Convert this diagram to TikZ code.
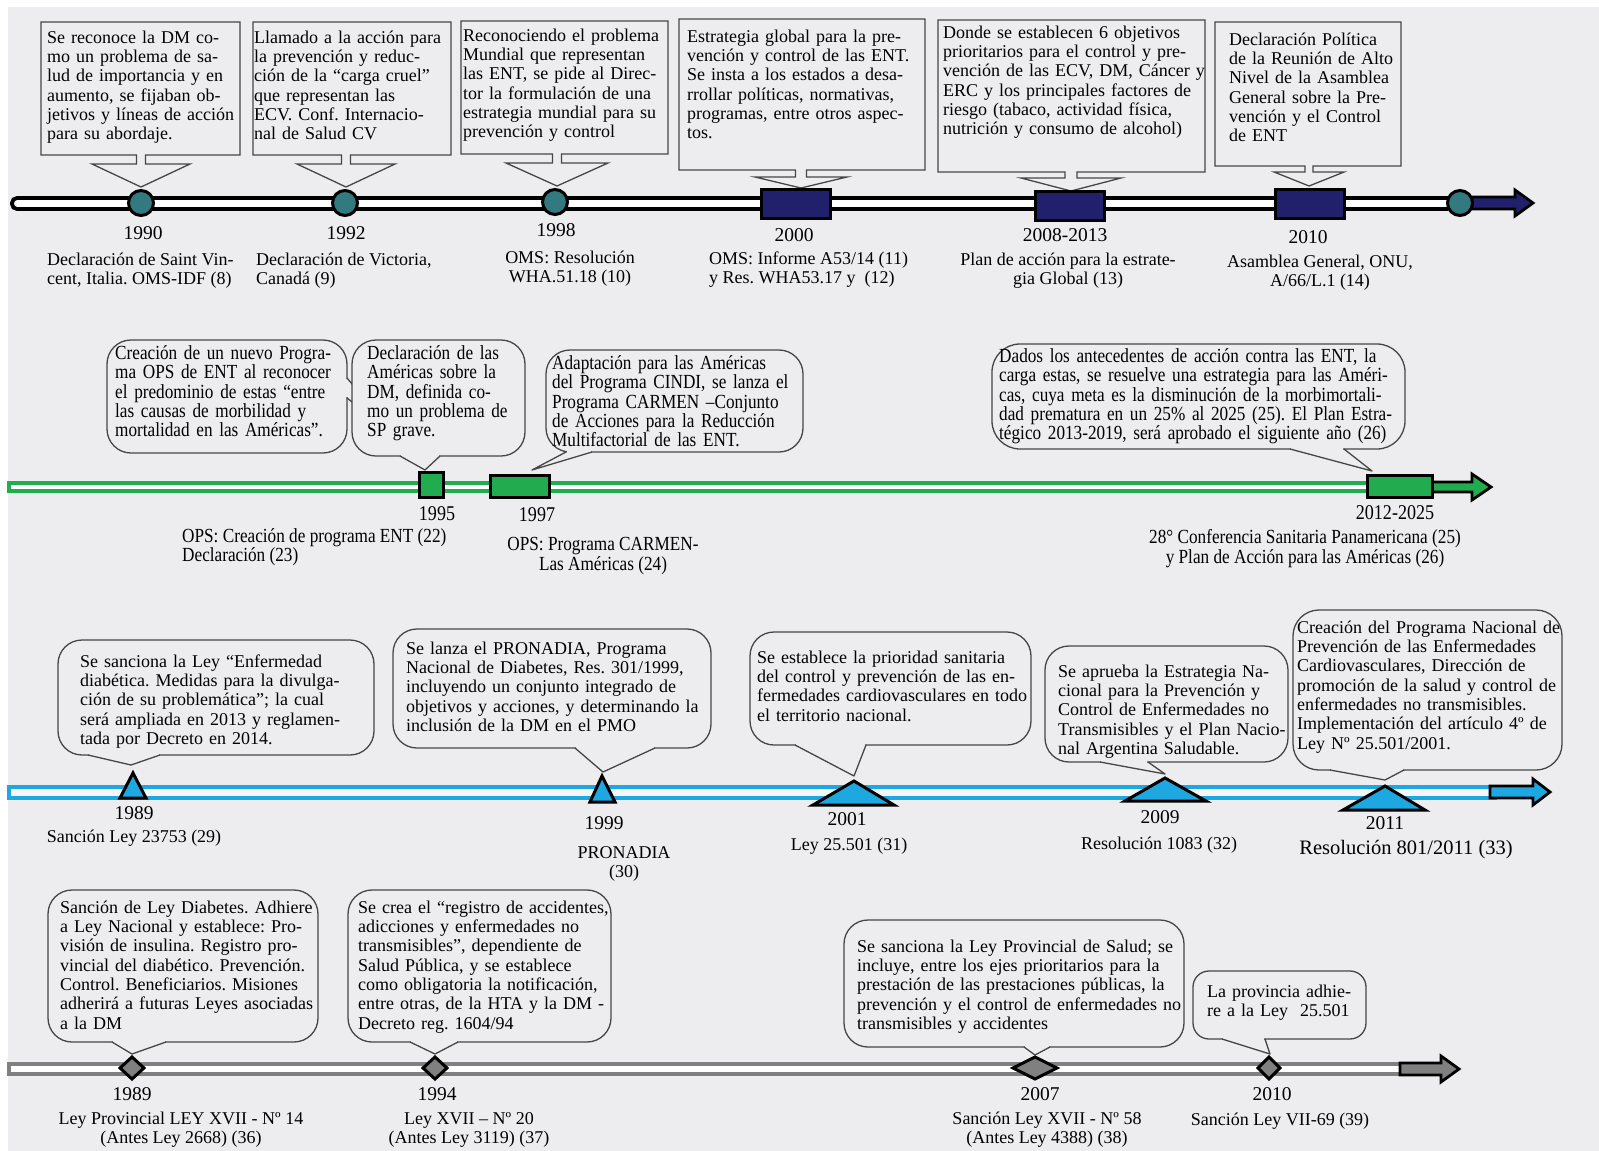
\documentclass[tikz,border=0pt]{standalone}
\usepackage{fontspec}
\setmainfont{Liberation Serif}
\newfontfamily\narrowserif[FakeStretch=0.86]{Liberation Serif}
\setlength{\parindent}{0pt}
\lineskiplimit=-100pt
\frenchspacing

\definecolor{bgc}{RGB}{237,237,239}
\definecolor{tealc}{RGB}{50,122,128}
\definecolor{navyc}{RGB}{32,32,108}
\definecolor{greenc}{RGB}{34,172,80}
\definecolor{bluec}{RGB}{30,168,226}
\definecolor{greyc}{RGB}{128,128,128}
\definecolor{edgec}{RGB}{70,70,70}

% one justified line of a paragraph
\newcommand{\J}[1]{\makebox[\hsize][s]{#1}\par}
% fixed first-line height
\newcommand{\fs}{\rule{0pt}{17pt}}

\tikzset{
  txt/.style={anchor=north west, inner sep=0pt, font=\frenchspacing\fontsize{18}{19.3}\selectfont, align=left},
  ntxt/.style={anchor=north west, inner sep=0pt, font=\frenchspacing\narrowserif\fontsize{20}{19.4}\selectfont, align=left},
  lab/.style={anchor=north, inner sep=0pt, font=\frenchspacing\fontsize{18}{19.3}\selectfont, align=center},
  nlab/.style={anchor=north, inner sep=0pt, font=\frenchspacing\narrowserif\fontsize{20}{20}\selectfont, align=center},
  year/.style={inner sep=0pt, font=\fontsize{19.5}{20}\selectfont},
  nyear/.style={inner sep=0pt, font=\narrowserif\fontsize{21}{21}\selectfont},
  mk/.style={draw=black, line width=3pt, inner sep=0pt},
  tcirc/.style={mk, circle, fill=tealc, minimum size=25pt},
  nbox/.style={mk, rectangle, fill=navyc, minimum width=69pt, minimum height=29pt},
  gbox/.style={mk, rectangle, fill=greenc},
  mkline/.style={draw=black, line width=3pt, line join=miter},
  arrowline/.style={draw=black, line width=2.8pt, line join=miter},
  cbox/.style={draw=edgec, line width=1.3pt, fill=bgc},
  cedge/.style={draw=edgec, line width=1.3pt, line join=round},
}

% box with a short stem and a downward arrow head:
% xL, yT, xR, yB, stem centre, stem half width, stem bottom, head half width, tip y
\newcommand{\dncallout}[9]{%
  \draw[cbox] (#1,#2) -- (#3,#2) -- (#3,#4) -- ({#5+#6},#4) -- ({#5+#6},#7)
    -- ({#5+#8},#7) -- (#5,#9) -- ({#5-#8},#7) -- ({#5-#6},#7) -- ({#5-#6},#4)
    -- (#1,#4) -- cycle;}
% rounded speech bubble with its tail on the bottom edge:
% xL, yT, xR, yB, tail base 1, tail base 2, tip x, tip y, corner radius
\newcommand{\bubble}[9]{%
  \draw[cbox, rounded corners=#9pt] (#1,#2) rectangle (#3,#4);
  \fill[bgc] ({#5+0.8},{#4-1.3}) rectangle ({#6-0.8},{#4+1.3});
  \draw[cedge] (#5,#4) -- (#7,#8) -- (#6,#4);}
% triangle marker: apex x, apex y, base left, base right, base y
\newcommand{\tri}[5]{\draw[mkline, fill=bluec] (#1,#2) -- (#3,#5) -- (#4,#5) -- cycle;}
% diamond marker: centre x, centre y, half width, half height
\newcommand{\dia}[4]{\draw[mkline, fill=greyc] ({#1-#3},#2) -- (#1,{#2-#4}) -- ({#1+#3},#2) -- (#1,{#2+#4}) -- cycle;}

\begin{document}
\begin{tikzpicture}[x=1pt,y=-1pt]
\useasboundingbox (0,0) rectangle (1599,1151);
\fill[white] (0,0) rectangle (1599,1151);
\fill[bgc] (8,7) rectangle (1599,1151);

%% ---------------- Row 1: OMS ----------------
\draw[line width=3.8pt, fill=white, rounded corners=5pt] (12,198) rectangle (1452,209);
\draw[arrowline, fill=navyc] (1450,197) -- (1515,197) -- (1515,190) -- (1533,203)
  -- (1515,216) -- (1515,209) -- (1450,209) -- cycle;

\dncallout{41}{22}{240}{155}{141}{4.5}{164}{49}{187}
\dncallout{253}{22}{451}{155}{346}{4.5}{164}{49}{187}
\dncallout{461}{21}{668}{154}{557}{4.5}{163}{51}{186}
\dncallout{679}{19}{925}{170}{801}{5.5}{177}{46}{188}
\dncallout{938}{20}{1205}{172}{1071}{6}{178}{50}{191}
\dncallout{1215}{22}{1401}{166}{1309}{4}{172}{35}{186}

\node[tcirc] (c1990) at (141,203) {};
\node[tcirc] (c1992) at (345,203) {};
\node[tcirc] (c1998) at (555,202) {};
\node[nbox] (b2000) at (796,204) {};
\node[nbox] (b2008) at (1070,206) {};
\node[nbox] (b2010) at (1310,204) {};
\node[tcirc] (cend) at (1460,203) {};

\node[txt, text width=186pt] (t1990) at (47,26) {\J{\fs Se reconoce la DM co-}\J{mo un problema de sa-}\J{lud de importancia y en}\J{aumento, se fijaban ob-}\J{jetivos y líneas de acción}para su abordaje.};
\node[txt, text width=400pt] (t1992) at (254,26) {\fs Llamado a la acción para\\la prevención y reduc-\\ción de la “carga cruel”\\que representan las\\ECV. Conf. Internacio-\\nal de Salud CV};
\node[txt, text width=400pt] (t1998) at (463,24) {\fs Reconociendo el problema\\Mundial que representan\\las ENT, se pide al Direc-\\tor la formulación de una\\estrategia mundial para su\\prevención y control};
\node[txt, text width=223pt] (t2000) at (687,25) {\J{\fs Estrategia global para la pre-}\J{vención y control de las ENT.}\J{Se insta a los estados a desa-}\J{rrollar políticas, normativas,}\J{programas, entre otros aspec-}tos.};
\node[txt, text width=261pt] (t2008) at (943,21) {\J{\fs Donde se establecen 6 objetivos}\J{prioritarios para el control y pre-}\J{vención de las ECV, DM, Cáncer y}\J{ERC y los principales factores de}\J{riesgo (tabaco, actividad física,}nutrición y consumo de alcohol)};
\node[txt, text width=400pt] (t2010) at (1229,28) {\fs Declaración Política\\de la Reunión de Alto\\Nivel de la Asamblea\\General sobre la Pre-\\vención y el Control\\de ENT};

\node[year] (y1990) at (143,233) {1990};
\node[year] (y1992) at (346,233) {1992};
\node[year] (y1998) at (556,230) {1998};
\node[year] (y2000) at (794,235) {2000};
\node[year] (y2008) at (1065,235) {2008-2013};
\node[year] (y2010) at (1308,237) {2010};

\node[txt] (d1990) at (47,248) {\fs Declaración de Saint Vin-\\cent, Italia. OMS-IDF (8)};
\node[txt] (d1992) at (256,248) {\fs Declaración de Victoria,\\Canadá (9)};
\node[lab] (d1998) at (570,246) {\fs OMS: Resolución\\WHA.51.18 (10)};
\node[txt] (d2000) at (709,247) {\fs OMS: Informe A53/14 (11)\\y Res. WHA53.17 y \ (12)};
\node[lab] (d2008) at (1068,248) {\fs Plan de acción para la estrate-\\gia Global (13)};
\node[lab] (d2010) at (1320,250) {\fs Asamblea General, ONU,\\A/66/L.1 (14)};

%% ---------------- Row 2: OPS ----------------
\draw[draw=greenc, line width=3.5pt, fill=white] (9,483) rectangle (1440,491);
\draw[arrowline, fill=greenc] (1425,482) -- (1472,482) -- (1472,474) -- (1491,487)
  -- (1472,500) -- (1472,492) -- (1425,492) -- cycle;

% bubble whose tail runs behind the next one
\draw[cbox, rounded corners=24pt] (107,340) rectangle (347,453);
\fill[bgc] (346,379) rectangle (348.5,397);
\draw[cedge] (347,378) -- (400,440) -- (347,398);
\bubble{352}{340}{525}{456}{400}{440}{425}{470}{24}
\bubble{546}{350}{803}{452}{566}{592}{532}{470}{24}
\bubble{992}{344}{1405}{449}{1290}{1344}{1372}{471}{28}

\node[gbox, minimum width=24pt, minimum height=25pt] (g1995) at (431,485) {};
\node[gbox, minimum width=59pt, minimum height=22pt] (g1997) at (520,486) {};
\node[gbox, minimum width=65pt, minimum height=22pt] (g2012) at (1400,486) {};

\node[ntxt, text width=400pt] (t1995a) at (115,342) {\fs Creación de un nuevo Progra-\\ma OPS de ENT al reconocer\\el predominio de estas “entre\\las causas de morbilidad y\\mortalidad en las Américas”.};
\node[ntxt, text width=400pt] (t1995b) at (367,342) {\fs Declaración de las\\Américas sobre la\\DM, definida co-\\mo un problema de\\SP grave.};
\node[ntxt, text width=240pt] (t1997) at (552,352) {\J{\fs Adaptación para las Américas}\J{del Programa CINDI, se lanza el}\J{Programa CARMEN –Conjunto}\J{de Acciones para la Reducción}Multifactorial de las ENT.};
\node[ntxt, text width=398pt] (t2012) at (999,345) {\J{\fs Dados los antecedentes de acción contra las ENT, la}\J{carga estas, se resuelve una estrategia para las Améri-}\J{cas, cuya meta es la disminución de la morbimortali-}\J{dad prematura en un 25\% al 2025 (25). El Plan Estra-}tégico 2013-2019, será aprobado el siguiente año (26)};

\node[nyear] (y1995) at (437,514) {1995};
\node[nyear] (y1997) at (537,515) {1997};
\node[nyear] (y2012) at (1395,513) {2012-2025};

\node[ntxt] (d1995) at (182,525) {\fs OPS: Creación de programa ENT (22)\\Declaración (23)};
\node[nlab] (d1997) at (603,533) {\fs OPS: Programa CARMEN-\\Las Américas (24)};
\node[nlab] (d2012) at (1305,526) {\fs 28° Conferencia Sanitaria Panamericana (25)\\y Plan de Acción para las Américas (26)};

%% ---------------- Row 3: Nación ----------------
\draw[draw=bluec, line width=3.5pt, fill=bgc!50!white] (9,787) rectangle (1495,798);
\draw[arrowline, fill=bluec] (1490,786) -- (1533,786) -- (1533,779) -- (1550,792)
  -- (1533,805) -- (1533,798) -- (1490,798) -- cycle;

\bubble{58}{640}{374}{755}{88}{160}{131}{765}{24}
\bubble{393}{629}{711}{748}{575}{655}{603}{772}{24}
\bubble{750}{632}{1031}{745}{795}{866}{854}{776}{24}
\bubble{1045}{646}{1288}{762}{1100}{1148}{1165}{774}{24}
\bubble{1293}{610}{1562}{770}{1330}{1404}{1385}{780}{26}

\tri{133}{773}{120}{146}{798}
\tri{602}{776}{590}{615}{802}
\tri{854}{781}{813}{894}{805}
\tri{1165}{778}{1125}{1206}{801}
\tri{1385}{786}{1343}{1425}{810}

\node[txt, text width=266pt] (t1989n) at (80,650) {\J{\fs Se sanciona la Ley “Enfermedad}\J{diabética. Medidas para la divulga-}\J{ción de su problemática”; la cual}\J{será ampliada en 2013 y reglamen-}tada por Decreto en 2014.};
\node[txt, text width=290pt] (t1999) at (406,637) {\J{\fs Se lanza el PRONADIA, Programa}\J{Nacional de Diabetes, Res. 301/1999,}\J{incluyendo un conjunto integrado de}\J{objetivos y acciones, y determinando la}inclusión de la DM en el PMO};
\node[txt, text width=266pt] (t2001) at (757,646) {\J{\fs Se establece la prioridad sanitaria}\J{del control y prevención de las en-}\J{fermedades cardiovasculares en todo}el territorio nacional.};
\node[txt, text width=400pt] (t2009) at (1058,660) {\fs Se aprueba la Estrategia Na-\\cional para la Prevención y\\Control de Enfermedades no\\Transmisibles y el Plan Nacio-\\nal Argentina Saludable.};
\node[txt, text width=400pt] (t2011) at (1297,616) {\fs Creación del Programa Nacional de\\Prevención de las Enfermedades\\Cardiovasculares, Dirección de\\promoción de la salud y control de\\enfermedades no transmisibles.\\Implementación del artículo 4º de\\Ley Nº 25.501/2001.};

\node[year] (y1989n) at (134,813) {1989};
\node[year] (y1999) at (604,823) {1999};
\node[year] (y2001) at (847,819) {2001};
\node[year] (y2009) at (1160,817) {2009};
\node[year] (y2011) at (1385,823) {2011};

\node[lab] (d1989n) at (134,825) {\fs Sanción Ley 23753 (29)};
\node[lab] (d1999) at (624,841) {\fs PRONADIA\\(30)};
\node[lab] (d2001) at (849,833) {\fs Ley 25.501 (31)};
\node[lab] (d2009) at (1159,832) {\fs Resolución 1083 (32)};
\node[lab, font=\fontsize{20.5}{21}\selectfont] (d2011) at (1406,837) {\fs Resolución 801/2011 (33)};

%% ---------------- Row 4: Provincia ----------------
\draw[draw=greyc, line width=3.5pt, fill=white] (9,1064) rectangle (1405,1074);
\draw[arrowline, fill=greyc] (1400,1063) -- (1441,1063) -- (1441,1056) -- (1459,1069)
  -- (1441,1082) -- (1441,1075) -- (1400,1075) -- cycle;

\bubble{48}{890}{318}{1042}{112}{166}{132}{1054}{24}
\bubble{348}{890}{611}{1042}{410}{458}{435}{1054}{24}
\bubble{844}{920}{1184}{1047}{1024}{1050}{1035}{1055}{24}
\bubble{1193}{971}{1366}{1039}{1222}{1265}{1270}{1054}{16}

\dia{132}{1068}{12}{11}
\dia{435}{1068}{12}{11}
\dia{1035}{1068}{22}{11}
\dia{1269}{1068}{11}{11}

\node[txt, text width=400pt] (t1989p) at (60,896) {\fs Sanción de Ley Diabetes. Adhiere\\a Ley Nacional y establece: Pro-\\visión de insulina. Registro pro-\\vincial del diabético. Prevención.\\Control. Beneficiarios. Misiones\\adherirá a futuras Leyes asociadas\\a la DM};
\node[txt, text width=400pt] (t1994) at (358,896) {\fs Se crea el “registro de accidentes,\\adicciones y enfermedades no\\transmisibles”, dependiente de\\Salud Pública, y se establece\\como obligatoria la notificación,\\entre otras, de la HTA y la DM -\\Decreto reg. 1604/94};
\node[txt, text width=400pt] (t2007) at (857,935) {\fs Se sanciona la Ley Provincial de Salud; se\\incluye, entre los ejes prioritarios para la\\prestación de las prestaciones públicas, la\\prevención y el control de enfermedades no\\transmisibles y accidentes};
\node[txt, text width=400pt] (t2010p) at (1207,980) {\fs La provincia adhie-\\re a la Ley \ 25.501};

\node[year] (y1989p) at (132,1094) {1989};
\node[year] (y1994) at (437,1094) {1994};
\node[year] (y2007) at (1040,1094) {2007};
\node[year] (y2010p) at (1272,1094) {2010};

\node[lab] (d1989p) at (181,1107) {\fs Ley Provincial LEY XVII - Nº 14\\(Antes Ley 2668) (36)};
\node[lab] (d1994) at (469,1107) {\fs Ley XVII – Nº 20\\(Antes Ley 3119) (37)};
\node[lab] (d2007) at (1047,1107) {\fs Sanción Ley XVII - Nº 58\\(Antes Ley 4388) (38)};
\node[lab] (d2010p) at (1280,1108) {\fs Sanción Ley VII-69 (39)};
\end{tikzpicture}
\end{document}
